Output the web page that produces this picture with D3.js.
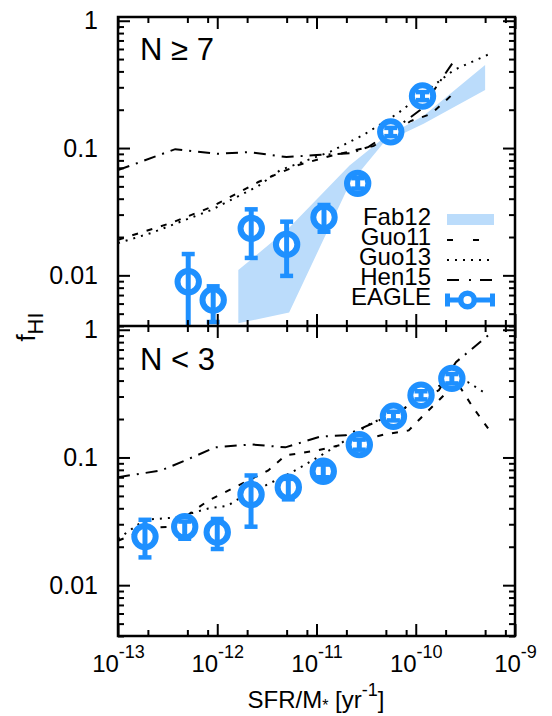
<!DOCTYPE html>
<html>
<head>
<meta charset="utf-8">
<script src="https://cdn.jsdelivr.net/npm/d3@7"></script>
<style>
body { margin: 0; background: #fff; }
text { font-family: "Liberation Sans", Arial, Helvetica, sans-serif; }
</style>
</head>
<body>
<svg id="chart" width="552" height="716"></svg>
<script>
// ---- data ----
// EAGLE, N >= 7
var eagleTopX  = [5.1e-13, 9.1e-13, 2.2e-12, 5.0e-12, 1.19e-11, 2.6e-11, 5.6e-11, 1.17e-10];
var eagleTopY  = [0.0089, 0.0064, 0.0234, 0.0175, 0.0286, 0.0528, 0.134, 0.256];
var eagleTopLo = [0.002, 0.0043, 0.0137, 0.0099, 0.022, 0.048, 0.124, 0.238];
var eagleTopHi = [0.0147, 0.0082, 0.033, 0.0264, 0.0357, 0.058, 0.144, 0.275];

// EAGLE, N < 3
var eagleBotX  = [1.87e-13, 4.7e-13, 1.0e-12, 2.19e-12, 5.2e-12, 1.17e-11, 2.7e-11, 5.96e-11, 1.13e-10, 2.31e-10];
var eagleBotY  = [0.024, 0.0287, 0.026, 0.0513, 0.0585, 0.078, 0.126, 0.21, 0.307, 0.416];
var eagleBotLo = [0.0165, 0.0231, 0.0192, 0.0287, 0.047, 0.07, 0.115, 0.195, 0.285, 0.38];
var eagleBotHi = [0.0325, 0.0315, 0.033, 0.0723, 0.068, 0.088, 0.138, 0.228, 0.33, 0.45];

// Fab12 band (top panel only)
var fabX  = [1.63e-12, 5.3e-12, 2.15e-11, 4.75e-11, 1.2e-10, 5.0e-10];
var fabLo = [0.0042, 0.0051, 0.052, 0.11, 0.155, 0.286];
var fabHi = [0.011, 0.0236, 0.073, 0.12, 0.179, 0.45];

// model lines, top panel
var guo11TopX = [1e-13, 3.43e-13, 8.7e-13, 2.59e-12, 6.58e-12, 1.38e-11, 3.77e-11, 8.9e-11, 1.42e-10, 2.37e-10];
var guo11TopY = [0.019, 0.0258, 0.0344, 0.0541, 0.0736, 0.0866, 0.104, 0.163, 0.185, 0.266];
var guo13TopX = [1e-13, 2.15e-13, 8.7e-13, 2.59e-12, 4.33e-12, 1.38e-11, 2.98e-11, 6.58e-11, 1.32e-10, 2.42e-10, 5.73e-10];
var guo13TopY = [0.0179, 0.0215, 0.0326, 0.0503, 0.0672, 0.0936, 0.127, 0.187, 0.286, 0.41, 0.555];
var hen15TopX = [1e-13, 3.77e-13, 1.0e-12, 2.06e-12, 4.98e-12, 1.0e-11, 2.2e-11, 3.35e-11, 5.6e-11, 1.12e-10, 2.37e-10];
var hen15TopY = [0.067, 0.098, 0.09, 0.093, 0.085, 0.088, 0.091, 0.102, 0.134, 0.2, 0.47];

// model lines, bottom panel
var guo11BotX = [1e-13, 2.15e-13, 3.43e-13, 8.1e-13, 3.27e-12, 4.86e-12, 6.58e-12, 1.02e-11, 4.98e-11, 8.5e-11, 1.12e-10, 1.79e-10, 2.59e-10, 3.77e-10, 5.73e-10];
var guo11BotY = [0.0223, 0.0282, 0.0287, 0.0459, 0.0791, 0.104, 0.1075, 0.1135, 0.152, 0.163, 0.203, 0.291, 0.389, 0.247, 0.157];
var guo13BotX = [1e-13, 1.87e-13, 3.77e-13, 8.1e-13, 1.29e-12, 1.52e-12, 5.58e-12, 6.89e-12, 1.63e-11, 3.51e-11, 6.28e-11, 1.12e-10, 2.26e-10, 3.35e-10, 4.86e-10];
var guo13BotY = [0.0231, 0.0326, 0.0338, 0.0398, 0.042, 0.0459, 0.0763, 0.0835, 0.124, 0.185, 0.222, 0.291, 0.418, 0.389, 0.324];
var hen15BotX = [1e-13, 2.72e-13, 4.75e-13, 9.55e-13, 2.2e-12, 4.86e-12, 1.1e-11, 1.96e-11, 3.68e-11, 7.05e-11, 1.71e-10, 2.54e-10, 5.73e-10];
var hen15BotY = [0.0701, 0.0791, 0.0948, 0.12, 0.1265, 0.12, 0.146, 0.149, 0.185, 0.234, 0.336, 0.558, 0.942];

// ticks
var xMajor = [1e-13, 1e-12, 1e-11, 1e-10, 1e-9];
var xExp   = ["-13", "-12", "-11", "-10", "-9"];
var xMinor = [2e-13, 5e-13, 8e-13, 2e-12, 5e-12, 8e-12, 2e-11, 5e-11, 8e-11, 2e-10, 5e-10, 8e-10];
var yMajor = [0.01, 0.1, 1];
var yLabels = ["0.01", "0.1", "1"];
var yMinor = [0.004, 0.005, 0.006, 0.007, 0.008, 0.009,
              0.02, 0.03, 0.04, 0.05, 0.06, 0.07, 0.08, 0.09,
              0.2, 0.3, 0.4, 0.5, 0.6, 0.7, 0.8, 0.9];

var legendNames = ["Fab12", "Guo11", "Guo13", "Hen15", "EAGLE"];

// ---- layout ----
var left = 118, right = 515, top1 = 17, mid = 326, bot2 = 636;
var blue = "#1e90ff", band = "#bbdcfb";

var svg = d3.select("#chart");
var x = d3.scaleLog().domain([1e-13, 1e-9]).range([left, right]);
var yTop = d3.scaleLog().domain([0.004, 1.07]).range([mid, top1]);
var yBot = d3.scaleLog().domain([0.004, 1.07]).range([bot2, mid]);

function zip(a, b) { return a.map(function(v, i) { return [v, b[i]]; }); }

function panel(id, y, y0, y1) {
  svg.append("clipPath").attr("id", id)
    .append("rect").attr("x", left).attr("y", y0).attr("width", right - left).attr("height", y1 - y0);
  return svg.append("g").attr("clip-path", "url(#" + id + ")");
}

function modelLine(g, y, xs, ys, dash) {
  var line = d3.line().x(function(d) { return x(d[0]); }).y(function(d) { return y(d[1]); });
  g.append("path").datum(zip(xs, ys))
    .attr("d", line).attr("fill", "none").attr("stroke", "#000")
    .attr("stroke-width", 2).attr("stroke-dasharray", dash);
}

function eagle(g, y, xs, ys, lo, hi) {
  var pts = xs.map(function(v, i) { return {x: v, y: ys[i], lo: lo[i], hi: hi[i]}; });
  var e = g.selectAll(".pt").data(pts).enter().append("g");
  // white hole first, then error bar, then ring
  e.append("circle")
    .attr("cx", function(d) { return x(d.x); }).attr("cy", function(d) { return y(d.y); })
    .attr("r", 11).attr("fill", "#fff");
  e.append("line")
    .attr("x1", function(d) { return x(d.x); }).attr("x2", function(d) { return x(d.x); })
    .attr("y1", function(d) { return y(d.lo); }).attr("y2", function(d) { return y(d.hi); })
    .attr("stroke", blue).attr("stroke-width", 5);
  ["lo", "hi"].forEach(function(k) {
    e.append("line")
      .attr("x1", function(d) { return x(d.x) - 6.5; }).attr("x2", function(d) { return x(d.x) + 6.5; })
      .attr("y1", function(d) { return y(d[k]); }).attr("y2", function(d) { return y(d[k]); })
      .attr("stroke", blue).attr("stroke-width", 4.5);
  });
  e.append("circle")
    .attr("cx", function(d) { return x(d.x); }).attr("cy", function(d) { return y(d.y); })
    .attr("r", 10.7).attr("fill", "none").attr("stroke", blue).attr("stroke-width", 6);
}

// top panel
var gTop = panel("clipTop", yTop, top1, mid);
gTop.append("path").datum(fabX.map(function(v, i) { return [v, fabLo[i], fabHi[i]]; }))
  .attr("d", d3.area().x(function(d) { return x(d[0]); })
    .y0(function(d) { return yTop(d[1]); }).y1(function(d) { return yTop(d[2]); }))
  .attr("fill", band);
modelLine(gTop, yTop, guo11TopX, guo11TopY, "6,9");
modelLine(gTop, yTop, guo13TopX, guo13TopY, "2,6");
modelLine(gTop, yTop, hen15TopX, hen15TopY, "12,7,2,7");
eagle(gTop, yTop, eagleTopX, eagleTopY, eagleTopLo, eagleTopHi);

// bottom panel
var gBot = panel("clipBot", yBot, mid, bot2);
modelLine(gBot, yBot, guo11BotX, guo11BotY, "6,9");
modelLine(gBot, yBot, guo13BotX, guo13BotY, "2,6");
modelLine(gBot, yBot, hen15BotX, hen15BotY, "12,7,2,7");
eagle(gBot, yBot, eagleBotX, eagleBotY, eagleBotLo, eagleBotHi);

// axes
function styleAxis(g) {
  g.select(".domain").remove();
  g.selectAll(".tick line").attr("stroke", "#000").attr("stroke-width", 2);
  g.attr("font-family", null).attr("font-size", 25);
  g.selectAll(".tick text").attr("fill", "#000");
}

function axes(y, y0, y1, withXLabels) {
  svg.append("g").attr("transform", "translate(" + left + ",0)")
    .call(d3.axisLeft(y).tickValues(yMajor).tickSize(-12).tickPadding(20)
      .tickFormat(function(d, i) { return yLabels[i]; }))
    .call(styleAxis);
  svg.append("g").attr("transform", "translate(" + left + ",0)")
    .call(d3.axisLeft(y).tickValues(yMinor).tickSize(-6).tickFormat(""))
    .call(styleAxis);
  svg.append("g").attr("transform", "translate(" + right + ",0)")
    .call(d3.axisRight(y).tickValues(yMajor).tickSize(-12).tickFormat(""))
    .call(styleAxis);
  svg.append("g").attr("transform", "translate(" + right + ",0)")
    .call(d3.axisRight(y).tickValues(yMinor).tickSize(-6).tickFormat(""))
    .call(styleAxis);
  svg.append("g").attr("transform", "translate(0," + y0 + ")")
    .call(d3.axisTop(x).tickValues(xMajor).tickSize(-12).tickFormat(""))
    .call(styleAxis);
  svg.append("g").attr("transform", "translate(0," + y0 + ")")
    .call(d3.axisTop(x).tickValues(xMinor).tickSize(-6).tickFormat(""))
    .call(styleAxis);
  var xb = svg.append("g").attr("transform", "translate(0," + y1 + ")")
    .call(d3.axisBottom(x).tickValues(xMajor).tickSize(-12).tickFormat(function() { return ""; }))
    .call(styleAxis);
  svg.append("g").attr("transform", "translate(0," + y1 + ")")
    .call(d3.axisBottom(x).tickValues(xMinor).tickSize(-6).tickFormat(""))
    .call(styleAxis);
  if (withXLabels) {
    xb.selectAll(".tick text").each(function(d, i) {
      var t = d3.select(this).attr("y", 36).attr("dy", null).attr("font-size", 24);
      t.append("tspan").text("10");
      t.append("tspan").attr("font-size", 18).attr("dy", -14).text(xExp[i]);
    });
  }
}
axes(yTop, top1, mid, false);
axes(yBot, mid, bot2, true);

// frame
svg.append("rect").attr("x", left).attr("y", top1).attr("width", right - left).attr("height", bot2 - top1)
  .attr("fill", "none").attr("stroke", "#000").attr("stroke-width", 2.5);
svg.append("line").attr("x1", left).attr("x2", right).attr("y1", mid).attr("y2", mid)
  .attr("stroke", "#000").attr("stroke-width", 2.5);

// panel labels
svg.append("text").attr("x", 140).attr("y", 60).attr("font-size", 31).text("N \u2265 7");
svg.append("text").attr("x", 140).attr("y", 370).attr("font-size", 31).text("N < 3");

// axis titles
var xl = svg.append("text").attr("x", 316).attr("y", 708).attr("text-anchor", "middle").attr("font-size", 24);
xl.append("tspan").text("SFR/M");
xl.append("tspan").attr("font-size", 16).attr("dy", 3).text("*");
xl.append("tspan").attr("dy", -3).text(" [yr");
xl.append("tspan").attr("font-size", 18).attr("dy", -12).text("-1");
xl.append("tspan").attr("dy", 12).text("]");

var yl = svg.append("text").attr("transform", "translate(35,327) rotate(-90)")
  .attr("text-anchor", "middle").attr("font-size", 26);
yl.append("tspan").text("f");
yl.append("tspan").attr("font-size", 22).attr("dy", 8).text("HI");

// legend
var lx = 431, ly = [225, 245, 265, 285, 305];
var leg = svg.append("g");
leg.selectAll("text").data(legendNames).enter().append("text")
  .attr("x", lx).attr("y", function(d, i) { return ly[i]; })
  .attr("text-anchor", "end").attr("font-size", 24).text(function(d) { return d; });
leg.append("rect").attr("x", 447).attr("y", 214).attr("width", 47).attr("height", 11).attr("fill", band);
var dashes = ["6,20", "2,6", "12,10,2,9"];
dashes.forEach(function(ds, i) {
  leg.append("line").attr("x1", 447).attr("x2", 494).attr("y1", ly[i + 1] - 5).attr("y2", ly[i + 1] - 5)
    .attr("stroke", "#000").attr("stroke-width", 2).attr("stroke-dasharray", ds);
});
var ey = ly[4] - 5;
leg.append("line").attr("x1", 446).attr("x2", 494).attr("y1", ey).attr("y2", ey)
  .attr("stroke", blue).attr("stroke-width", 5);
[447.5, 492.5].forEach(function(cx) {
  leg.append("line").attr("x1", cx).attr("x2", cx).attr("y1", ey - 6.5).attr("y2", ey + 6.5)
    .attr("stroke", blue).attr("stroke-width", 5);
});
leg.append("circle").attr("cx", 467.5).attr("cy", ey).attr("r", 6.8)
  .attr("fill", "#fff").attr("stroke", blue).attr("stroke-width", 5.5);
</script>
</body>
</html>
